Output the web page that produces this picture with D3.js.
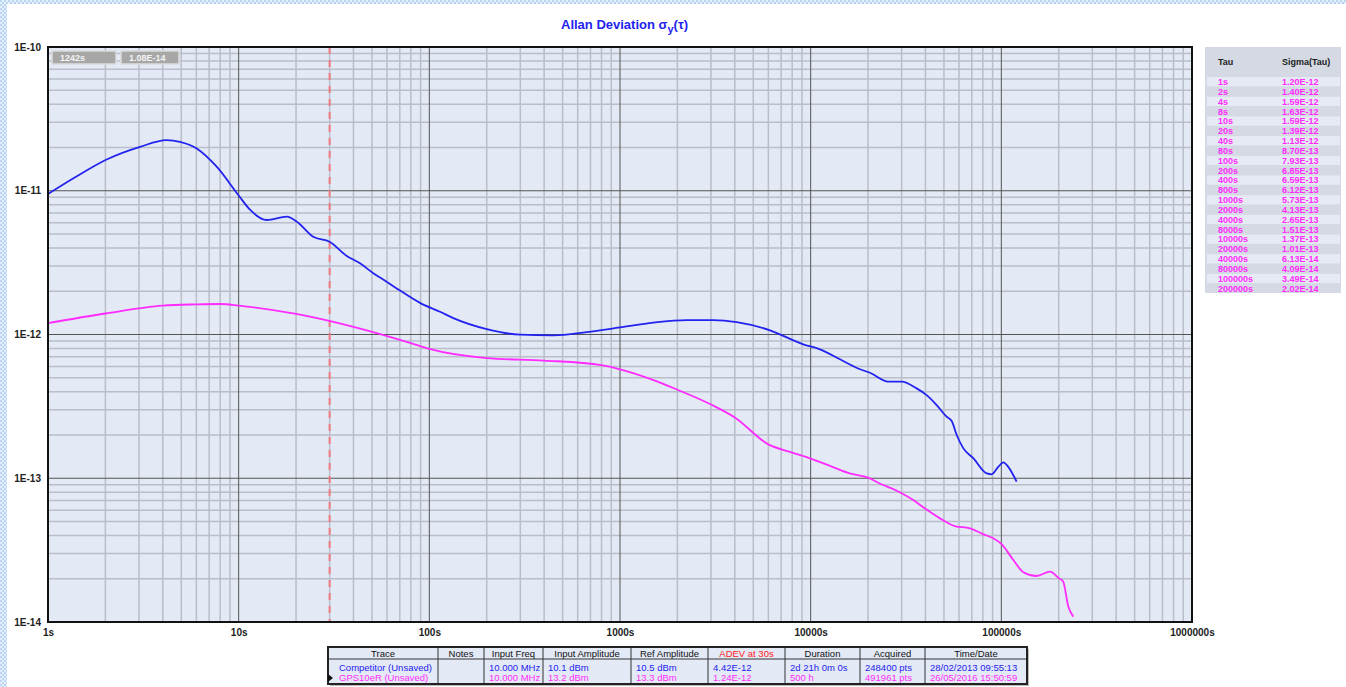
<!DOCTYPE html>
<html>
<head>
<meta charset="utf-8">
<script src="https://cdn.jsdelivr.net/npm/d3@7"></script>
<style>
  body { margin: 0; background: #fff; }
  text { font-family: "Liberation Sans", Arial, sans-serif; }
</style>
</head>
<body>
<svg id="chart" width="1346" height="687"></svg>
<script>
// Competitor trace (blue)
const blueTau = [
  1, 1.36, 2.03, 3.04, 4.19, 4.92, 6.02, 7.67,
  9.96, 11.5, 14.0, 17.9, 20.2, 24.6, 30, 36.9,
  43.3, 50.8, 59.7, 70.2, 89.3, 113.7, 133.6, 200,
  299, 447, 669, 1000, 1496, 2237, 3085, 4093,
  6120, 9140, 11190, 14250, 18150, 20470, 25530, 30000,
  35970, 40570, 45810, 51650, 54930, 58340, 63110, 71270,
  83790, 88960, 96350, 102400, 108700, 120300
];
const blueSigma = [
  9.48e-12, 1.22e-11, 1.65e-11, 2.02e-11, 2.25e-11, 2.19e-11, 1.97e-11, 1.47e-11,
  9.34e-12, 7.35e-12, 6.26e-12, 6.60e-12, 6.09e-12, 4.79e-12, 4.42e-12, 3.52e-12,
  3.13e-12, 2.67e-12, 2.33e-12, 2.02e-12, 1.66e-12, 1.44e-12, 1.30e-12, 1.09e-12,
  9.97e-13, 9.87e-13, 1.04e-12, 1.12e-12, 1.21e-12, 1.26e-12, 1.26e-12, 1.22e-12,
  1.07e-12, 8.55e-13, 7.89e-13, 6.72e-13, 5.73e-13, 5.42e-13, 4.70e-13, 4.70e-13,
  4.22e-13, 3.79e-13, 3.23e-13, 2.68e-13, 2.50e-13, 2.00e-13, 1.62e-13, 1.38e-13,
  1.08e-13, 1.065e-13, 1.20e-13, 1.29e-13, 1.20e-13, 9.46e-14
];

// GPS10eR trace (magenta)
const magTau = [
  1, 2, 4, 6, 8, 10, 20, 40,
  80, 100, 200, 400, 800, 1000, 1500, 2000, 3000,
  4000, 6000, 8000, 10000, 13000, 16000, 20000, 23000,
  29000, 34500, 40000, 47700, 57000, 68500, 80000, 90800,
  100000, 115600, 130400, 153200, 180000, 200000, 211000, 224500, 238500
];
const magSigma = [
  1.20e-12, 1.40e-12, 1.59e-12, 1.62e-12, 1.63e-12, 1.59e-12, 1.39e-12, 1.13e-12,
  8.70e-13, 7.93e-13, 6.85e-13, 6.59e-13, 6.12e-13, 5.73e-13, 4.82e-13, 4.13e-13, 3.26e-13,
  2.65e-13, 1.72e-13, 1.51e-13, 1.37e-13, 1.20e-13, 1.08e-13, 1.01e-13, 9.2e-14,
  8.06e-14, 7.06e-14, 6.13e-14, 5.26e-14, 4.65e-14, 4.48e-14, 4.09e-14, 3.82e-14,
  3.49e-14, 2.70e-14, 2.22e-14, 2.09e-14, 2.24e-14, 2.02e-14, 1.91e-14, 1.28e-14, 1.09e-14
];

// Tau / Sigma(Tau) side table
const tableTau = ['1s', '2s', '4s', '8s', '10s', '20s', '40s', '80s', '100s', '200s', '400s',
  '800s', '1000s', '2000s', '4000s', '8000s', '10000s', '20000s', '40000s', '80000s', '100000s', '200000s'];
const tableSigma = ['1.20E-12', '1.40E-12', '1.59E-12', '1.63E-12', '1.59E-12', '1.39E-12', '1.13E-12',
  '8.70E-13', '7.93E-13', '6.85E-13', '6.59E-13', '6.12E-13', '5.73E-13', '4.13E-13', '2.65E-13',
  '1.51E-13', '1.37E-13', '1.01E-13', '6.13E-14', '4.09E-14', '3.49E-14', '2.02E-14'];

// Axis ticks
const xDecades = [1, 10, 100, 1000, 10000, 100000, 1000000];
const xTickLabels = ['1s', '10s', '100s', '1000s', '10000s', '100000s', '1000000s'];
const yDecades = [1e-14, 1e-13, 1e-12, 1e-11, 1e-10];
const yTickLabels = ['1E-14', '1E-13', '1E-12', '1E-11', '1E-10'];

// Cursor readouts and marker
const readouts = ['1242s', '1.08E-14'];
const markerTau = 30;

// Bottom trace table
const traceHeaders = ['Trace', 'Notes', 'Input Freq', 'Input Amplitude', 'Ref Amplitude', 'ADEV at 30s', 'Duration', 'Acquired', 'Time/Date'];
const competitorRow = ['Competitor (Unsaved)', '', '10.000 MHz', '10.1 dBm', '10.5 dBm', '4.42E-12', '2d 21h 0m 0s', '248400 pts', '28/02/2013 09:55:13'];
const gpsRow = ['GPS10eR (Unsaved)', '', '10.000 MHz', '13.2 dBm', '13.3 dBm', '1.24E-12', '500 h', '491961 pts', '26/05/2016 15:50:59'];

const BLUE = '#2323f0';
const MAGENTA = '#ff2bff';

const svg = d3.select('#chart');

// Page frame: dotted blue border
const defs = svg.append('defs');
const pat = defs.append('pattern')
  .attr('id', 'dots')
  .attr('width', 4).attr('height', 4)
  .attr('patternUnits', 'userSpaceOnUse');
pat.append('rect').attr('width', 4).attr('height', 4).attr('fill', '#e6f0fb');
pat.append('rect').attr('width', 2).attr('height', 2).attr('fill', '#b9d5f3');
pat.append('rect').attr('x', 2).attr('y', 2).attr('width', 2).attr('height', 2).attr('fill', '#b9d5f3');
svg.append('rect').attr('width', 1346).attr('height', 687).attr('fill', 'url(#dots)');
svg.append('rect').attr('x', 7).attr('y', 4).attr('width', 1339).attr('height', 683).attr('fill', '#fff');

// Plot area
const pLeft = 48, pRight = 1192, pTop = 47, pBottom = 622;
const x = d3.scaleLog().domain([1, 1e6]).range([pLeft, pRight]);
const y = d3.scaleLog().domain([1e-14, 1e-10]).range([pBottom, pTop]);

// Title
const title = svg.append('text')
  .attr('x', 561).attr('y', 29)
  .style('font-size', '13px')
  .style('font-weight', 'bold')
  .style('fill', BLUE);
title.append('tspan').text('Allan Deviation σ');
title.append('tspan').attr('dy', 4).style('font-size', '11px').text('y');
title.append('tspan').attr('dy', -4).text('(τ)');

svg.append('rect')
  .attr('x', pLeft).attr('y', pTop)
  .attr('width', pRight - pLeft).attr('height', pBottom - pTop)
  .attr('fill', '#e3e9f5');

// Grid lines (minor then decade)
const isDecade = v => Math.abs(Math.log10(v) - Math.round(Math.log10(v))) < 1e-9;
const grid = svg.append('g');
grid.selectAll('.vminor')
  .data(x.ticks().filter(d => !isDecade(d)))
  .enter().append('line')
    .attr('x1', d => x(d)).attr('x2', d => x(d))
    .attr('y1', pTop).attr('y2', pBottom)
    .attr('stroke', '#b9bec9').attr('stroke-width', 1.5);
grid.selectAll('.hminor')
  .data(y.ticks().filter(d => !isDecade(d)))
  .enter().append('line')
    .attr('x1', pLeft).attr('x2', pRight)
    .attr('y1', d => y(d)).attr('y2', d => y(d))
    .attr('stroke', '#b9bec9').attr('stroke-width', 1.5);
grid.selectAll('.vmajor')
  .data(xDecades)
  .enter().append('line')
    .attr('x1', d => x(d)).attr('x2', d => x(d))
    .attr('y1', pTop).attr('y2', pBottom)
    .attr('stroke', '#555').attr('stroke-width', 1);
grid.selectAll('.hmajor')
  .data(yDecades)
  .enter().append('line')
    .attr('x1', pLeft).attr('x2', pRight)
    .attr('y1', d => y(d)).attr('y2', d => y(d))
    .attr('stroke', '#555').attr('stroke-width', 1);

// Red dashed marker at 30s
svg.append('line')
  .attr('x1', x(markerTau)).attr('x2', x(markerTau))
  .attr('y1', pTop).attr('y2', pBottom)
  .attr('stroke', '#f07a80')
  .attr('stroke-width', 2)
  .attr('stroke-dasharray', '7,6');

// Traces
const line = d3.line()
  .x(d => x(d[0]))
  .y(d => y(d[1]))
  .curve(d3.curveMonotoneX);

svg.append('path')
  .datum(d3.zip(magTau, magSigma))
  .attr('d', line)
  .attr('fill', 'none')
  .attr('stroke', MAGENTA)
  .attr('stroke-width', 1.8);

svg.append('path')
  .datum(d3.zip(blueTau, blueSigma))
  .attr('d', line)
  .attr('fill', 'none')
  .attr('stroke', BLUE)
  .attr('stroke-width', 1.8);

// Plot border
svg.append('rect')
  .attr('x', pLeft).attr('y', pTop)
  .attr('width', pRight - pLeft).attr('height', pBottom - pTop)
  .attr('fill', 'none')
  .attr('stroke', '#111')
  .attr('stroke-width', 2);

// Axes labels
const xAxis = svg.append('g')
  .attr('transform', `translate(0,${pBottom})`)
  .call(d3.axisBottom(x).tickValues(xDecades).tickSize(0).tickPadding(7)
    .tickFormat((d, i) => xTickLabels[i]));
const yAxis = svg.append('g')
  .attr('transform', `translate(${pLeft},0)`)
  .call(d3.axisLeft(y).tickValues(yDecades).tickSize(0).tickPadding(7)
    .tickFormat((d, i) => yTickLabels[i]));
[xAxis, yAxis].forEach(a => {
  a.select('.domain').remove();
  a.selectAll('text')
    .style('font-family', '"Liberation Sans", Arial, sans-serif')
    .style('font-size', '10px')
    .style('font-weight', 'bold')
    .style('fill', '#222');
});

// Cursor readout boxes
const boxX = [52, 121], boxW = [64, 58];
readouts.forEach((r, i) => {
  svg.append('rect')
    .attr('x', boxX[i]).attr('y', 51)
    .attr('width', boxW[i]).attr('height', 13)
    .attr('fill', '#a7a7a7')
    .attr('stroke', '#dcdcdc')
    .attr('stroke-width', 1.5);
  svg.append('text')
    .attr('x', boxX[i] + 8).attr('y', 61)
    .style('font-size', '9px')
    .style('font-weight', 'bold')
    .style('fill', '#f4f4f4')
    .text(r);
});

// Tau / Sigma(Tau) table
const tbl = svg.append('g');
tbl.append('rect')
  .attr('x', 1205).attr('y', 47)
  .attr('width', 136).attr('height', 246)
  .attr('fill', '#d4d9e3');
tbl.append('text').attr('x', 1218).attr('y', 65)
  .style('font-size', '9px').style('font-weight', 'bold').style('fill', '#222').text('Tau');
tbl.append('text').attr('x', 1282).attr('y', 65)
  .style('font-size', '9px').style('font-weight', 'bold').style('fill', '#222').text('Sigma(Tau)');
tableTau.forEach((t, i) => {
  const cy = 81.7 + i * 9.84;
  if (i % 2 === 0) {
    tbl.append('rect')
      .attr('x', 1207).attr('y', cy - 4.6)
      .attr('width', 133).attr('height', 9.2)
      .attr('fill', '#e6eaf5');
  }
  tbl.append('text').attr('x', 1218).attr('y', cy + 3.3)
    .style('font-size', '9px').style('font-weight', 'bold').style('fill', MAGENTA).text(t);
  tbl.append('text').attr('x', 1282).attr('y', cy + 3.3)
    .style('font-size', '9px').style('font-weight', 'bold').style('fill', MAGENTA).text(tableSigma[i]);
});

// Bottom trace table
const tx0 = 328, tx1 = 1027, ty0 = 647, tyH = 659, ty1 = 684;
const colEdges = [tx0, 438, 484, 543, 631, 708, 785, 860, 925, tx1];
const bt = svg.append('g');
bt.append('rect')
  .attr('x', tx0 + 2).attr('y', ty0 + 2)
  .attr('width', tx1 - tx0).attr('height', ty1 - ty0)
  .attr('fill', '#bbb');
bt.append('rect')
  .attr('x', tx0).attr('y', ty0)
  .attr('width', tx1 - tx0).attr('height', ty1 - ty0)
  .attr('fill', '#e3e9f5');
bt.append('line')
  .attr('x1', tx0).attr('x2', tx1)
  .attr('y1', tyH).attr('y2', tyH)
  .attr('stroke', '#333').attr('stroke-width', 1);
colEdges.slice(1, -1).forEach(cx => {
  bt.append('line')
    .attr('x1', cx).attr('x2', cx)
    .attr('y1', ty0).attr('y2', ty1)
    .attr('stroke', '#333').attr('stroke-width', 1);
});
bt.append('rect')
  .attr('x', tx0).attr('y', ty0)
  .attr('width', tx1 - tx0).attr('height', ty1 - ty0)
  .attr('fill', 'none')
  .attr('stroke', '#222').attr('stroke-width', 2);

traceHeaders.forEach((h, i) => {
  bt.append('text')
    .attr('x', (colEdges[i] + colEdges[i + 1]) / 2).attr('y', 656.5)
    .attr('text-anchor', 'middle')
    .style('font-size', '9.5px')
    .style('fill', h.startsWith('ADEV') ? '#ff1a1a' : '#111')
    .text(h);
});
[[competitorRow, BLUE, 670.5], [gpsRow, MAGENTA, 681]].forEach(([row, col, ty]) => {
  row.forEach((v, i) => {
    bt.append('text')
      .attr('x', colEdges[i] + (i === 0 ? 11 : 5)).attr('y', ty)
      .style('font-size', '9.5px')
      .style('fill', col)
      .text(v);
  });
});
// Row pointer
bt.append('path')
  .attr('d', `M${tx0},674 L${tx0 + 5},678 L${tx0},682 Z`)
  .attr('fill', '#111');
</script>
</body>
</html>
